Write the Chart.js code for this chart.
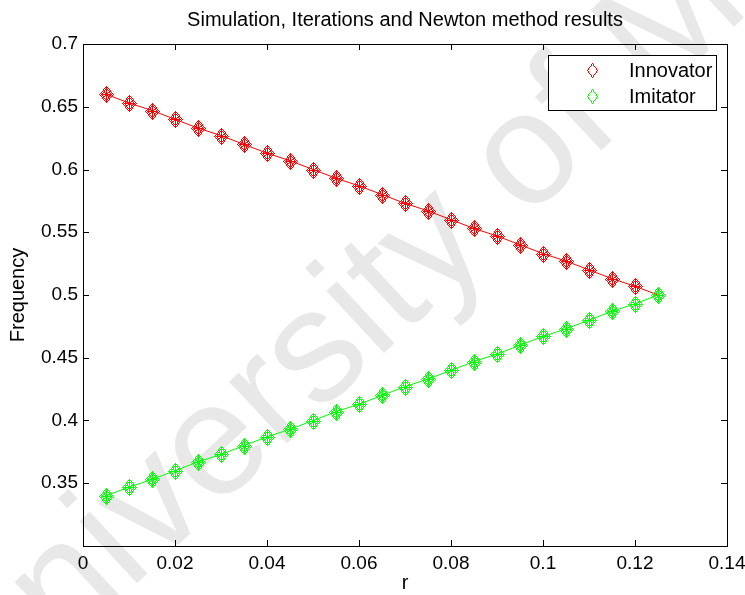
<!DOCTYPE html>
<html>
<head>
<meta charset="utf-8">
<script src="https://cdn.jsdelivr.net/npm/chart.js@4"></script>
<style>
  html, body { margin: 0; padding: 0; background: #fff; }
  #wrap { width: 745px; height: 595px; }
</style>
</head>
<body>
<div id="wrap"><canvas id="freqChart"></canvas></div>
<script>
// r values and equilibrium frequencies
const rValues = [0.005, 0.01, 0.015, 0.02, 0.025, 0.03, 0.035, 0.04, 0.045, 0.05,
  0.055, 0.06, 0.065, 0.07, 0.075, 0.08, 0.085, 0.09, 0.095, 0.1,
  0.105, 0.11, 0.115, 0.12, 0.125];
const innovator = [0.660, 0.653, 0.647, 0.640, 0.633, 0.627, 0.620, 0.613, 0.607, 0.600,
  0.593, 0.587, 0.580, 0.573, 0.567, 0.560, 0.553, 0.547, 0.540, 0.533,
  0.527, 0.520, 0.513, 0.507, 0.500];
const imitator = [0.340, 0.347, 0.353, 0.360, 0.367, 0.373, 0.380, 0.387, 0.393, 0.400,
  0.407, 0.413, 0.420, 0.427, 0.433, 0.440, 0.447, 0.453, 0.460, 0.467,
  0.473, 0.480, 0.487, 0.493, 0.500];
const seriesNames = ["Innovator", "Imitator"];
const xTicks = [0, 0.02, 0.04, 0.06, 0.08, 0.1, 0.12, 0.14];
const yTicks = [0.3, 0.35, 0.4, 0.45, 0.5, 0.55, 0.6, 0.65, 0.7];

const FONT = "'Liberation Sans', Arial, Helvetica, sans-serif";
const RED = "#ff0000";
const GREEN = "#00ff00";

function toPoints(ys) {
  return rValues.map((x, i) => ({ x: x, y: ys[i] }));
}

// aliased 1px line, pixel by pixel
function pixLine(g, x0, y0, x1, y1) {
  const dx = Math.abs(x1 - x0), dy = -Math.abs(y1 - y0);
  const sx = x0 < x1 ? 1 : -1, sy = y0 < y1 ? 1 : -1;
  let err = dx + dy;
  while (true) {
    g.fillRect(x0, y0, 1, 1);
    if (x0 === x1 && y0 === y1) break;
    const e2 = 2 * err;
    if (e2 >= dy) { err += dy; x0 += sx; }
    if (e2 <= dx) { err += dx; y0 += sy; }
  }
}

function pixDiamond(g, cx, cy, hw, hh) {
  pixLine(g, cx, cy - hh, cx + hw, cy);
  pixLine(g, cx + hw, cy, cx, cy + hh);
  pixLine(g, cx, cy + hh, cx - hw, cy);
  pixLine(g, cx - hw, cy, cx, cy - hh);
}

// simulation diamond + iteration diamond + newton star, stacked in one marker
function makeMarker(color) {
  const c = document.createElement("canvas");
  c.width = 16; c.height = 18;
  const g = c.getContext("2d");
  const cx = 8, cy = 9;
  g.fillStyle = color;
  pixDiamond(g, cx, cy, 7, 8);
  pixDiamond(g, cx, cy, 5, 6);
  pixLine(g, cx, cy - 8, cx, cy + 8);
  pixLine(g, cx - 4, cy, cx + 4, cy);
  pixLine(g, cx - 2, cy - 2, cx + 2, cy + 2);
  pixLine(g, cx + 2, cy - 2, cx - 2, cy + 2);
  return c;
}

function series(name, ys, color, order) {
  return {
    label: name,
    data: toPoints(ys),
    showLine: true,
    borderColor: color,
    backgroundColor: color,
    borderWidth: 1,
    pointStyle: makeMarker(color),
    pointRadius: 8,
    pointBorderColor: color,
    pointBackgroundColor: color,
    order: order
  };
}

const watermark = {
  id: "watermark",
  beforeDraw(chart) {
    const ctx = chart.ctx;
    const size = 160;
    ctx.save();
    ctx.font = size + "px " + FONT;
    ctx.fillStyle = "#e8e8e8";
    ctx.translate(530, 160);
    ctx.rotate(-43 * Math.PI / 180);
    const before = ctx.measureText("University ").width;
    const o = ctx.measureText("o").width;
    ctx.textBaseline = "alphabetic";
    ctx.fillText("University of Malaya", -before - o / 2, size * 0.26);
    ctx.restore();
  },
  // keep the marker images crisp
  beforeDatasetsDraw(chart) {
    chart.ctx.imageSmoothingEnabled = false;
  }
};

// MATLAB style box with inward ticks, title and legend
const frame = {
  id: "frame",
  afterDatasetsDraw(chart) {
    const ctx = chart.ctx;
    ctx.imageSmoothingEnabled = true;
    const a = chart.chartArea;
    const xs = chart.scales.x, ys = chart.scales.y;
    const len = 6;
    ctx.save();
    ctx.strokeStyle = "#000";
    ctx.lineWidth = 1;
    ctx.beginPath();
    xTicks.forEach(v => {
      const px = Math.round(xs.getPixelForValue(v)) + 0.5;
      ctx.moveTo(px, a.bottom); ctx.lineTo(px, a.bottom - len);
      ctx.moveTo(px, a.top); ctx.lineTo(px, a.top + len);
    });
    yTicks.forEach(v => {
      const py = Math.round(ys.getPixelForValue(v)) + 0.5;
      ctx.moveTo(a.left, py); ctx.lineTo(a.left + len, py);
      ctx.moveTo(a.right, py); ctx.lineTo(a.right - len, py);
    });
    ctx.stroke();
    ctx.strokeRect(Math.round(a.left) + 0.5, Math.round(a.top) + 0.5,
      Math.round(a.right - a.left), Math.round(a.bottom - a.top));

    // title, centred over the axes box
    ctx.fillStyle = "#000";
    ctx.font = "20px " + FONT;
    ctx.textAlign = "center";
    ctx.textBaseline = "middle";
    ctx.fillText("Simulation, Iterations and Newton method results", (a.left + a.right) / 2, 20);

    // legend
    const lx = 548.5, ly = 55.5, lw = 168, lh = 55;
    ctx.fillStyle = "#fff";
    ctx.fillRect(lx, ly, lw, lh);
    ctx.strokeRect(lx, ly, lw, lh);
    const colors = [RED, GREEN];
    ctx.textAlign = "left";
    seriesNames.forEach((name, i) => {
      const cy = 70 + i * 26;
      ctx.fillStyle = colors[i];
      pixDiamond(ctx, 592, cy, 5, 7);
      ctx.fillStyle = "#000";
      ctx.fillText(name, 629, cy + 1);
    });
    ctx.restore();
  }
};

const ctx = document.getElementById("freqChart").getContext("2d");
const chart = new Chart(ctx, {
  type: "scatter",
  data: {
    datasets: [
      series(seriesNames[1], imitator, GREEN, 0),
      series(seriesNames[0], innovator, RED, 1)
    ]
  },
  options: {
    responsive: true,
    maintainAspectRatio: false,
    animation: false,
    layout: { padding: { left: 0, right: 18, top: 44, bottom: 0 } },
    plugins: {
      legend: { display: false },
      tooltip: { enabled: false },
      title: { display: false }
    },
    scales: {
      x: {
        type: "linear",
        min: 0, max: 0.14,
        afterBuildTicks: s => { s.ticks = xTicks.map(v => ({ value: v })); },
        afterFit: s => { s.height = 49; s.paddingLeft = 0; s.paddingRight = 0; },
        grid: { display: false, drawTicks: false },
        border: { display: false },
        ticks: {
          color: "#000", padding: 6,
          font: { family: FONT, size: 19 },
          maxRotation: 0,
          callback: v => String(+v.toFixed(2))
        },
        title: {
          display: true, text: "r", color: "#000",
          font: { family: FONT, size: 20 },
          padding: { top: 0, bottom: 0 }
        }
      },
      y: {
        type: "linear",
        min: 0.3, max: 0.7,
        afterBuildTicks: s => { s.ticks = yTicks.map(v => ({ value: v })); },
        afterFit: s => { s.width = 83; s.paddingTop = 0; s.paddingBottom = 0; },
        grid: { display: false, drawTicks: false },
        border: { display: false },
        ticks: {
          color: "#000", padding: 5,
          font: { family: FONT, size: 19 },
          callback: v => (Math.abs(v - 0.3) < 1e-9 ? "" : String(+v.toFixed(2)))
        },
        title: {
          display: true, text: "Frequency", color: "#000",
          font: { family: FONT, size: 20 },
          padding: { top: 6, bottom: 0 }
        }
      }
    }
  },
  plugins: [watermark, frame]
});
</script>
</body>
</html>
